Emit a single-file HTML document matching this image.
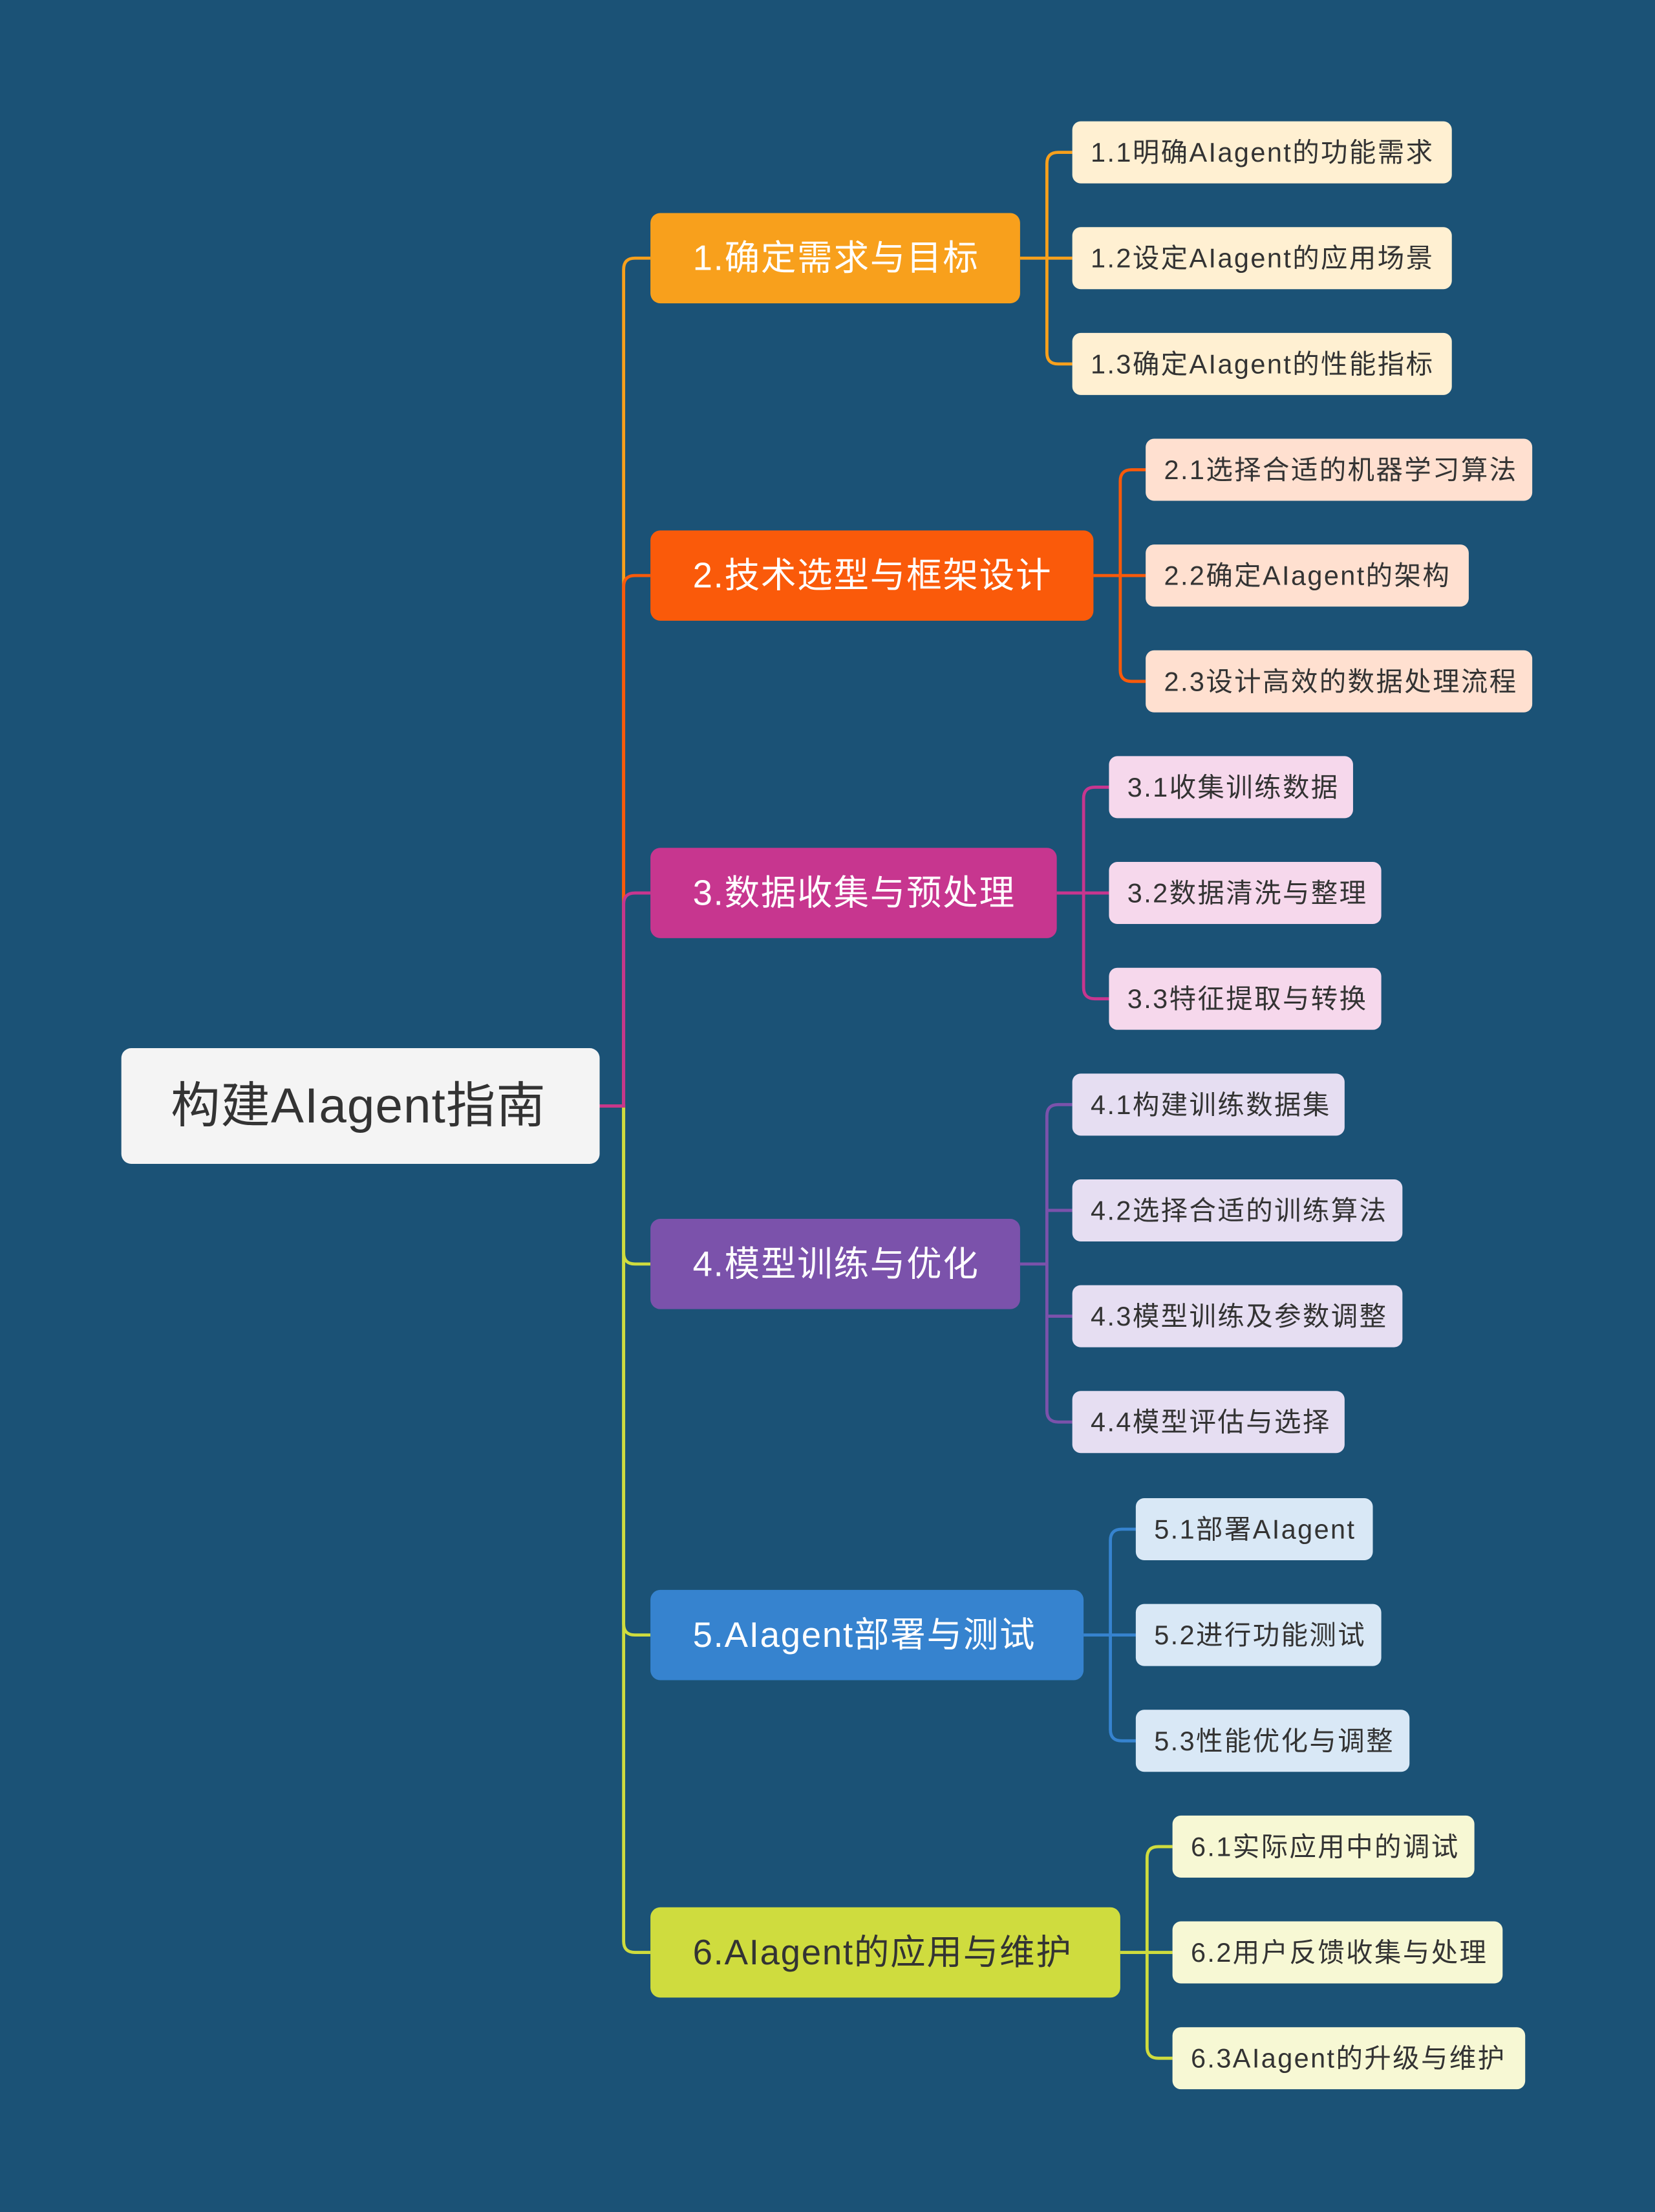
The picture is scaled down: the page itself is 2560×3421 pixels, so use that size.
<!DOCTYPE html>
<html><head><meta charset="utf-8">
<style>
html,body{margin:0;padding:0;background:#1b5276;}
svg{display:block;}
text{font-family:"Liberation Sans","Noto Sans CJK SC",sans-serif;dominant-baseline:central;}
</style></head>
<body>
<svg width="2560" height="3421" viewBox="0 0 1173 1568" preserveAspectRatio="none" xmlns="http://www.w3.org/2000/svg">
<rect x="0" y="0" width="1173" height="1568" fill="#1b5276"/>
<g fill="none" stroke-width="2.2">
<path d="M425 784 H442 V1376 Q442 1384 450 1384 H461" stroke="#cfdc3e"/>
<path d="M425 784 H442 V1151 Q442 1159 450 1159 H461" stroke="#cfdc3e"/>
<path d="M425 784 H442 V888 Q442 896 450 896 H461" stroke="#cfdc3e"/>
<path d="M425 784 H442 V191 Q442 183 450 183 H461" stroke="#f8a01c"/>
<path d="M425 784 H442 V416 Q442 408 450 408 H461" stroke="#fa5a0a"/>
<path d="M425 784 H442 V641 Q442 633 450 633 H461" stroke="#c7368f"/>
<path d="M723 183 H742 M742 183 V116 Q742 108 750 108 H760 M742 183 H760 M742 183 V250 Q742 258 750 258 H760" stroke="#f8a01c"/>
<path d="M775 408 H794 M794 408 V341 Q794 333 802 333 H812 M794 408 H812 M794 408 V475 Q794 483 802 483 H812" stroke="#fa5a0a"/>
<path d="M749 633 H768 M768 633 V566 Q768 558 776 558 H786 M768 633 H786 M768 633 V700 Q768 708 776 708 H786" stroke="#c7368f"/>
<path d="M723 896 H742 M742 896 V791 Q742 783 750 783 H760 M742 858 H760 M742 896 V1000 Q742 1008 750 1008 H760 M742 933 H760" stroke="#7b52ab"/>
<path d="M768 1159 H787 M787 1159 V1092 Q787 1084 795 1084 H805 M787 1159 H805 M787 1159 V1226 Q787 1234 795 1234 H805" stroke="#3683cf"/>
<path d="M794 1384 H813 M813 1384 V1317 Q813 1309 821 1309 H831 M813 1384 H831 M813 1384 V1451 Q813 1459 821 1459 H831" stroke="#cfdc3e"/>
</g>
<rect x="86" y="743" width="339" height="82" rx="7" fill="#f4f4f4"/>
<text x="121" y="784" font-size="35" fill="#333" letter-spacing="0.5">构建AIagent指南</text>
<g font-size="25" letter-spacing="0.8">
<rect x="461" y="151" width="262" height="64" rx="7" fill="#f8a01c"/><text x="491" y="183" fill="#fff">1.确定需求与目标</text>
<rect x="461" y="376" width="314" height="64" rx="7" fill="#fa5a0a"/><text x="491" y="408" fill="#fff">2.技术选型与框架设计</text>
<rect x="461" y="601" width="288" height="64" rx="7" fill="#c7368f"/><text x="491" y="633" fill="#fff">3.数据收集与预处理</text>
<rect x="461" y="864" width="262" height="64" rx="7" fill="#7b52ab"/><text x="491" y="896" fill="#fff">4.模型训练与优化</text>
<rect x="461" y="1127" width="307" height="64" rx="7" fill="#3683cf"/><text x="491" y="1159" fill="#fff">5.AIagent部署与测试</text>
<rect x="461" y="1352" width="333" height="64" rx="7" fill="#cfdc3e"/><text x="491" y="1384" fill="#333">6.AIagent的应用与维护</text>
</g>
<g font-size="19" fill="#333" letter-spacing="1.1">
<rect x="760" y="86" width="269" height="44" rx="6" fill="#fff0d2"/><text x="773" y="108">1.1明确AIagent的功能需求</text>
<rect x="760" y="161" width="269" height="44" rx="6" fill="#fff0d2"/><text x="773" y="183">1.2设定AIagent的应用场景</text>
<rect x="760" y="236" width="269" height="44" rx="6" fill="#fff0d2"/><text x="773" y="258">1.3确定AIagent的性能指标</text>
<rect x="812" y="311" width="274" height="44" rx="6" fill="#ffe0d0"/><text x="825" y="333">2.1选择合适的机器学习算法</text>
<rect x="812" y="386" width="229" height="44" rx="6" fill="#ffe0d0"/><text x="825" y="408">2.2确定AIagent的架构</text>
<rect x="812" y="461" width="274" height="44" rx="6" fill="#ffe0d0"/><text x="825" y="483">2.3设计高效的数据处理流程</text>
<rect x="786" y="536" width="173" height="44" rx="6" fill="#f6d8ec"/><text x="799" y="558">3.1收集训练数据</text>
<rect x="786" y="611" width="193" height="44" rx="6" fill="#f6d8ec"/><text x="799" y="633">3.2数据清洗与整理</text>
<rect x="786" y="686" width="193" height="44" rx="6" fill="#f6d8ec"/><text x="799" y="708">3.3特征提取与转换</text>
<rect x="760" y="761" width="193" height="44" rx="6" fill="#e6def2"/><text x="773" y="783">4.1构建训练数据集</text>
<rect x="760" y="836" width="234" height="44" rx="6" fill="#e6def2"/><text x="773" y="858">4.2选择合适的训练算法</text>
<rect x="760" y="911" width="234" height="44" rx="6" fill="#e6def2"/><text x="773" y="933">4.3模型训练及参数调整</text>
<rect x="760" y="986" width="193" height="44" rx="6" fill="#e6def2"/><text x="773" y="1008">4.4模型评估与选择</text>
<rect x="805" y="1062" width="168" height="44" rx="6" fill="#d9e8f6"/><text x="818" y="1084">5.1部署AIagent</text>
<rect x="805" y="1137" width="174" height="44" rx="6" fill="#d9e8f6"/><text x="818" y="1159">5.2进行功能测试</text>
<rect x="805" y="1212" width="194" height="44" rx="6" fill="#d9e8f6"/><text x="818" y="1234">5.3性能优化与调整</text>
<rect x="831" y="1287" width="214" height="44" rx="6" fill="#f7f8d4"/><text x="844" y="1309">6.1实际应用中的调试</text>
<rect x="831" y="1362" width="234" height="44" rx="6" fill="#f7f8d4"/><text x="844" y="1384">6.2用户反馈收集与处理</text>
<rect x="831" y="1437" width="250" height="44" rx="6" fill="#f7f8d4"/><text x="844" y="1459">6.3AIagent的升级与维护</text>
</g>
</svg>
</body></html>
